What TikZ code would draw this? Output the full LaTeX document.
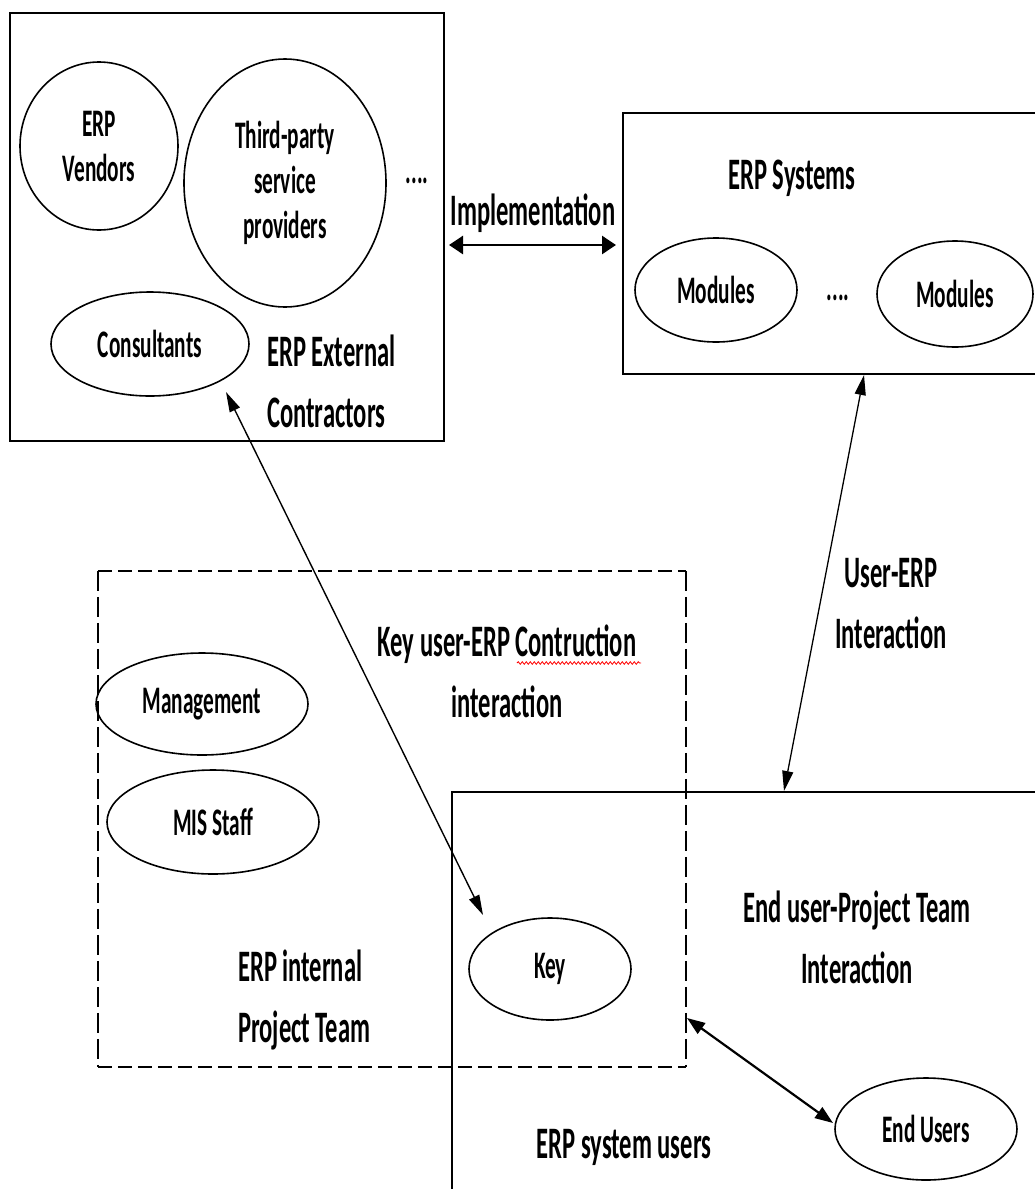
\documentclass[tikz,border=0pt]{standalone}
\usepackage{fontspec}
\setmainfont{Carlito}[FakeStretch=0.546]
\usetikzlibrary{arrows.meta,shapes.geometric,decorations.pathmorphing}
\newcommand\smfont{\fontsize{39}{45}\selectfont\bfseries}
\newcommand\lgfont{\fontsize{45}{61}\selectfont\bfseries}
\begin{document}
\begin{tikzpicture}[x=1pt,y=-1pt,
  ell/.style={draw, ellipse, line width=1.6pt, inner sep=0pt, align=center, font=\smfont},
  framebox/.style={draw, rectangle, line width=2.4pt, inner sep=0pt},
  lbl/.style={inner sep=0pt, align=center, font=\lgfont},
  lbll/.style={inner sep=0pt, align=left, font=\lgfont},
  dots/.style={inner sep=0pt, font=\smfont, anchor=base},
  hdash/.style={line width=2.2pt, dash pattern=on 14pt off 6pt},
  vdash/.style={line width=2.2pt, dash pattern=on 20pt off 6pt},
  bigarrow/.style={line width=2.6pt, {Triangle[length=14pt,width=18pt]}-{Triangle[length=14pt,width=18pt]}},
  thinarrow/.style={line width=1.4pt, {Triangle[length=20pt,width=11pt]}-{Triangle[length=20pt,width=11pt]}},
  midarrow/.style={line width=2.2pt, {Triangle[length=18pt,width=13pt]}-{Triangle[length=18pt,width=13pt]}}
]
\useasboundingbox (0,0) rectangle (1035,1189);
\clip (0,0) rectangle (1035,1189);

% frames
\node[framebox, minimum width=434pt, minimum height=428pt] (ext) at (227,227) {};
\node[framebox, minimum width=422pt, minimum height=261pt] (sys) at (834,243.5) {};
\node[framebox, minimum width=593pt, minimum height=408pt] (users) at (748.5,996) {};
\node[inner sep=0pt, minimum width=588pt, minimum height=496pt] (team) at (392,819) {};
\draw[hdash] (team.north west) -- (team.north east);
\draw[hdash] (team.south west) -- (team.south east);
\draw[vdash] (team.north west) -- (team.south west);
\draw[vdash] (team.north east) -- (team.south east);

% external contractors
\node[ell, minimum width=158pt, minimum height=168pt] (vend) at (99,146) {ERP\\Vendors};
\node[ell, minimum width=202pt, minimum height=248pt] (third) at (285,183) {Third-party\\service\\providers};
\node[ell, minimum width=198pt, minimum height=104pt] (cons) at (150,344) {Consultants};
\node[dots] (dots1) at (417,183) {....};
\node[lbll, anchor=west] (extlbl) at (267,381) {ERP External\\Contractors};

% ERP systems
\node[lbl] (syslbl) at (792,178) {ERP Systems};
\node[ell, minimum width=162pt, minimum height=104pt] (mod1) at (716,290) {Modules};
\node[dots] (dots2) at (838,300) {....};
\node[ell, minimum width=156pt, minimum height=106pt] (mod2) at (955,294) {Modules};

% implementation
\node[lbl] (impl) at (533,213) {Implementation};
\coordinate (implL) at (449,245);
\coordinate (implR) at (616,245);
\draw[bigarrow] (implL) -- (implR);

% internal project team
\node[ell, minimum width=212pt, minimum height=102pt] (mgmt) at (202,704) {Management};
\node[ell, minimum width=212pt, minimum height=104pt] (mis) at (213,822) {MIS Staff};
\node[lbll, anchor=west] (teamlbl) at (238,1000) {ERP internal\\Project Team};
\node[lbl] (kulbl) at (507,671) {Key user-ERP Contruction\\interaction};
\coordinate (sqA) at (517,663);
\coordinate (sqB) at (641,663);
\draw[red, line width=0.8pt, decorate, decoration={snake, amplitude=1.3pt, segment length=4pt}] (sqA) -- (sqB);

% users
\node[ell, minimum width=162pt, minimum height=102pt] (key) at (550,969) {Key};
\node[lbl] (eulbl) at (857,937) {End user-Project Team\\Interaction};
\node[lbl] (userslbl) at (624,1147) {ERP system users};
\node[ell, minimum width=182pt, minimum height=102pt] (endu) at (926,1129) {End Users};
\node[lbl] (uelbl) at (891,604) {User-ERP\\Interaction};

% connectors
\coordinate (consTip) at (226,392);
\coordinate (keyTip) at (483,915);
\draw[thinarrow] (consTip) -- (keyTip);
\coordinate (sysTip) at (864,375);
\coordinate (usersTip) at (784,791);
\draw[thinarrow, line width=1.3pt] (sysTip) -- (usersTip);
\coordinate (teamTip) at (687,1018);
\coordinate (endTip) at (833,1123);
\draw[midarrow] (teamTip) -- (endTip);
\end{tikzpicture}
\end{document}
